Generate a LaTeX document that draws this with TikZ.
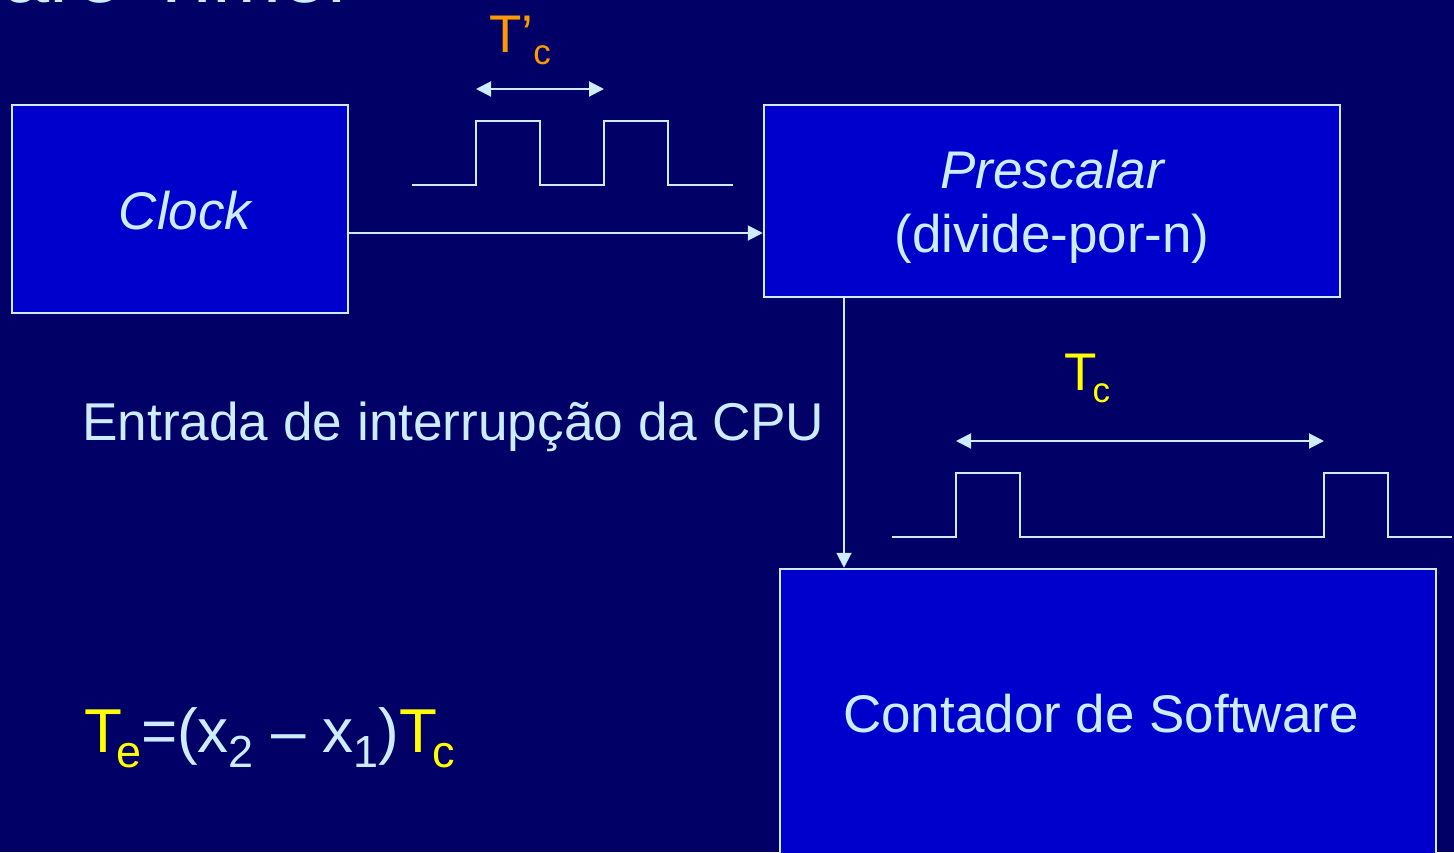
\documentclass[tikz,border=0pt]{standalone}
\usepackage{fontspec}
\setmainfont{Liberation Sans}
\usetikzlibrary{arrows.meta}
\definecolor{bgblue}{RGB}{0,0,102}
\definecolor{boxblue}{RGB}{0,0,204}
\definecolor{lb}{RGB}{204,236,255}
\definecolor{orng}{RGB}{255,153,0}
\definecolor{yel}{RGB}{255,255,0}
\newcommand\bodyfont{\fontsize{53}{64}\selectfont}
\newcommand\subA[1]{\lower15pt\hbox{\fontsize{45}{45}\selectfont #1}}
\newcommand\subC[1]{\lower12pt\hbox{\fontsize{35}{35}\selectfont #1}}
\begin{document}
\begin{tikzpicture}[x=1pt,y=-1pt,
  box/.style={draw=lb, fill=boxblue, line width=2.5pt, inner sep=0pt},
  boxtext/.style={inner sep=0pt, text=lb, font=\bodyfont, align=center},
  conn/.style={draw=lb, line width=2pt, -{Triangle[length=15pt,width=15pt]}},
  dim/.style={draw=lb, line width=2pt, {Triangle[length=15pt,width=15pt]}-{Triangle[length=15pt,width=15pt]}},
  wave/.style={draw=lb, line width=2pt},
  lbl/.style={inner sep=0pt, anchor=base west}]
\useasboundingbox (0,0) rectangle (1454,852);
\clip (0,0) rectangle (1454,852);
\fill[bgblue] (0,0) rectangle (1454,852);
% title (cut off)
\node[lbl, text=lb, font=\fontsize{83}{83}\selectfont] (title) at (3,2) {are Timer};
% boxes
\node[box, minimum width=336pt, minimum height=208pt] (clock) at (180,209) {};
\node[boxtext] (clocktxt) at ([xshift=5pt,yshift=-2pt]clock.center) {\itshape Clock};
\node[box, minimum width=576pt, minimum height=192pt] (presc) at (1052,201) {};
\node[boxtext] (presctxt) at ([yshift=-6pt]presc.center) {\itshape Prescalar\\(divide-por-n)};
\node[box, minimum width=656pt, minimum height=290pt] (cont) at (1108,714) {};
\node[boxtext] (conttxt) at ([xshift=-7pt]cont.center) {Contador de Software};
% connectors
\draw[conn] ([yshift=-24pt]clock.east) -- ([yshift=-24pt]clock.east -| presc.west);
\draw[conn] ([xshift=-208pt]presc.south) -- ([xshift=-208pt]presc.south |- cont.north);
% waveform 1
\draw[wave] (412,185) -- (476,185) -- (476,121) -- (540,121) -- (540,185) -- (604,185) -- (604,121) -- (668,121) -- (668,185) -- (733,185);
\coordinate (d1a) at (476,89);
\coordinate (d1b) at (604,89);
\draw[dim] (d1a) -- (d1b);
\node[lbl, text=orng, font=\bodyfont] (tpc) at (489,52) {T’\subC{c}};
% waveform 2
\draw[wave] (892,537) -- (956,537) -- (956,473) -- (1020,473) -- (1020,537) -- (1324,537) -- (1324,473) -- (1388,473) -- (1388,537) -- (1452,537);
\coordinate (d2a) at (956,441);
\coordinate (d2b) at (1324,441);
\draw[dim] (d2a) -- (d2b);
\node[lbl, text=yel, font=\bodyfont] (tc) at (1064,390) {T\kern-4pt\subC{c}};
% texts
\node[lbl, text=lb, font=\fontsize{53.2}{64}\selectfont] (entrada) at (82,440) {Entrada de interrupção da CPU};
\node[lbl, text=lb, font=\fontsize{62}{62}\selectfont] (formula) at (84,752)
  {\textcolor{yel}{T\kern-6pt\subA{e}}=(x\subA{2} – x\subA{1})\textcolor{yel}{T\kern-5pt\subA{c}}};
\end{tikzpicture}
\end{document}
